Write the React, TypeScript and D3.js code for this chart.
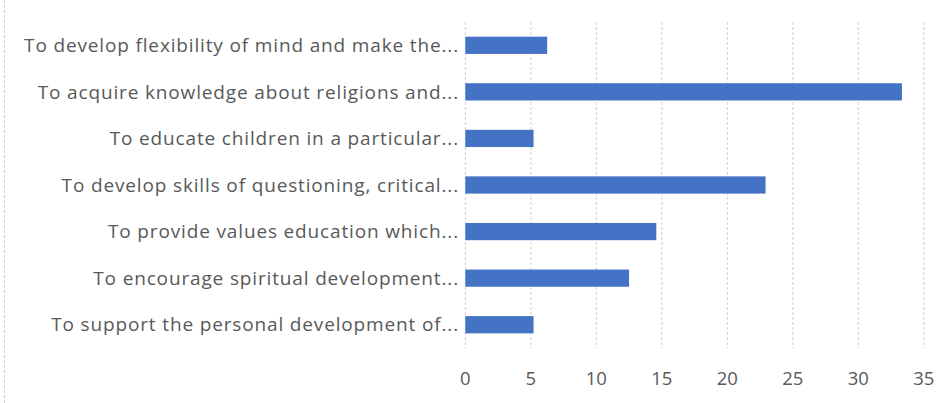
import React from "react";
import * as d3 from "d3";

const categories = [
  "To develop flexibility of mind and make the...",
  "To acquire knowledge about religions and...",
  "To educate children in a particular...",
  "To develop skills of questioning, critical...",
  "To provide values education which...",
  "To encourage spiritual development...",
  "To support the personal development of...",
];
const values = [6.25, 33.33, 5.21, 22.92, 14.58, 12.5, 5.21];
const xTicks = [0, 5, 10, 15, 20, 25, 30, 35];

const W = 952;
const H = 403;

export default function App() {
  const x = d3.scaleLinear().domain([0, 35]).range([465.3, 923.8]);
  const y = d3
    .scaleBand<string>()
    .domain(categories)
    .range([22, 348])
    .paddingInner(0.63)
    .paddingOuter(0.315);
  const font = "'Open Sans', sans-serif";
  const textColor = "#595959";
  return (
    <svg
      width={W}
      height={H}
      style={{ position: "absolute", left: 0, top: 0, background: "#fff" }}
    >
      <line x1={4.5} x2={4.5} y1={0} y2={H} stroke="#d0d0d0" strokeDasharray="3,2" />
      {xTicks.map((t) => (
        <line
          key={"g" + t}
          x1={x(t)}
          x2={x(t)}
          y1={22}
          y2={348}
          stroke="#d0d0d0"
          strokeWidth={1}
          strokeDasharray="3,2"
        />
      ))}
      {categories.map((c, i) => (
        <rect
          key={c}
          x={x(0)}
          y={y(c)}
          width={x(values[i]) - x(0)}
          height={y.bandwidth()}
          fill="#4472C4"
        />
      ))}
      {categories.map((c) => (
        <text
          key={"l" + c}
          x={459}
          y={(y(c) as number) + y.bandwidth() / 2}
          dy="0.35em"
          textAnchor="end"
          fontFamily={font}
          fontSize={19}
          letterSpacing={0.85}
          fill={textColor}
        >
          {c}
        </text>
      ))}
      {xTicks.map((t) => (
        <text
          key={"t" + t}
          x={x(t)}
          y={384.5}
          textAnchor="middle"
          fontFamily={font}
          fontSize={18.5}
          fill={textColor}
        >
          {t}
        </text>
      ))}
    </svg>
  );
}
